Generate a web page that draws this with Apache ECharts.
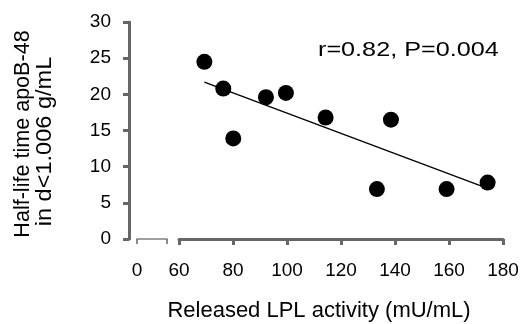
<!DOCTYPE html>
<html>
<head>
<meta charset="utf-8">
<script src="https://cdn.jsdelivr.net/npm/echarts@6/dist/echarts.min.js"></script>
<style>html,body{margin:0;padding:0;background:#fff}#c{width:522px;height:324px}</style>
</head>
<body>
<div id="c"></div>
<script>
var lplActivity = [69.4, 76.4, 80.1, 92.2, 99.6, 114.3, 133.3, 138.5, 159.1, 174.3];
var halfLife    = [24.5, 20.8, 13.9, 19.6, 20.2, 16.8, 6.9, 16.5, 6.9, 7.8];
var fitX = [69.4, 174.3];
var fitY = [21.7, 7.0];
var yTicks = [0, 5, 10, 15, 20, 25, 30];
var xTicks = [60, 80, 100, 120, 140, 160, 180];
var xTitle = 'Released LPL activity (mU/mL)';
var yTitle1 = 'Half-life time apoB-48';
var yTitle2 = 'in d<1.006 g/mL';
var statText = 'r=0.82, P=0.004';

var FONT = 'Liberation Sans, Arial, sans-serif';
var LINE = '#666666';
var chart = echarts.init(document.getElementById('c'), null, {renderer: 'canvas'});
chart.setOption({
  animation: false,
  backgroundColor: '#fff',
  grid: [
    {left: 137, right: 355, top: 22, bottom: 85},
    {left: 179, right: 19, top: 22, bottom: 85}
  ],
  xAxis: [
    {gridIndex: 0, type: 'value', min: 0, max: 1, interval: 1,
     axisLine: {show: true, onZero: false, lineStyle: {color: 'gray', width: 1.5}},
     axisTick: {show: true, inside: false, length: 5, lineStyle: {color: LINE, width: 1.5}},
     splitLine: {show: false},
     axisLabel: {show: true, fontFamily: FONT, fontSize: 19, color: 'black', margin: 22,
       formatter: function (v) { return v === 0 ? '0' : ''; }}},
    {gridIndex: 1, type: 'value', min: xTicks[0], max: xTicks[xTicks.length - 1], interval: 20,
     axisLine: {show: true, onZero: false, lineStyle: {color: LINE, width: 3}},
     axisTick: {show: true, inside: false, length: 6, lineStyle: {color: LINE, width: 3}},
     splitLine: {show: false},
     axisLabel: {show: true, fontFamily: FONT, fontSize: 19, color: 'black', margin: 22}}
  ],
  yAxis: [
    {gridIndex: 0, type: 'value', min: yTicks[0], max: yTicks[yTicks.length - 1], interval: 5, offset: 8,
     axisLine: {show: true, onZero: false, lineStyle: {color: LINE, width: 3}},
     axisTick: {show: true, inside: false, length: 6, lineStyle: {color: LINE, width: 3}},
     splitLine: {show: false},
     axisLabel: {show: true, fontFamily: FONT, fontSize: 19, color: 'black', margin: 18}},
    {gridIndex: 1, type: 'value', min: yTicks[0], max: yTicks[yTicks.length - 1], interval: 5, show: false,
     splitLine: {show: false}}
  ],
  series: [
    {type: 'line', xAxisIndex: 1, yAxisIndex: 1, symbol: 'none',
     lineStyle: {color: 'black', width: 1.4},
     data: fitX.map(function (x, i) { return [x, fitY[i]]; })},
    {type: 'scatter', xAxisIndex: 1, yAxisIndex: 1, symbol: 'circle', symbolSize: 16,
     itemStyle: {color: 'black', opacity: 1},
     data: lplActivity.map(function (x, i) { return [x, halfLife[i]]; })}
  ],
  graphic: [
    {type: 'text', x: 318, y: 50, scaleX: 1.2,
     style: {text: statText, font: '21px ' + FONT, fill: '#000', align: 'left', verticalAlign: 'middle'}},
    {type: 'text', x: 319, y: 311,
     style: {text: xTitle, font: '22px ' + FONT, fill: '#000', align: 'center', verticalAlign: 'middle'}},
    {type: 'text', x: 23, y: 134, rotation: Math.PI / 2, scaleX: 0.98,
     style: {text: yTitle1, font: '22px ' + FONT, fill: '#000', align: 'center', verticalAlign: 'middle'}},
    {type: 'text', x: 45, y: 141.5, rotation: Math.PI / 2, scaleX: 1.07,
     style: {text: yTitle2, font: '22px ' + FONT, fill: '#000', align: 'center', verticalAlign: 'middle'}}
  ]
});
</script>
</body>
</html>
